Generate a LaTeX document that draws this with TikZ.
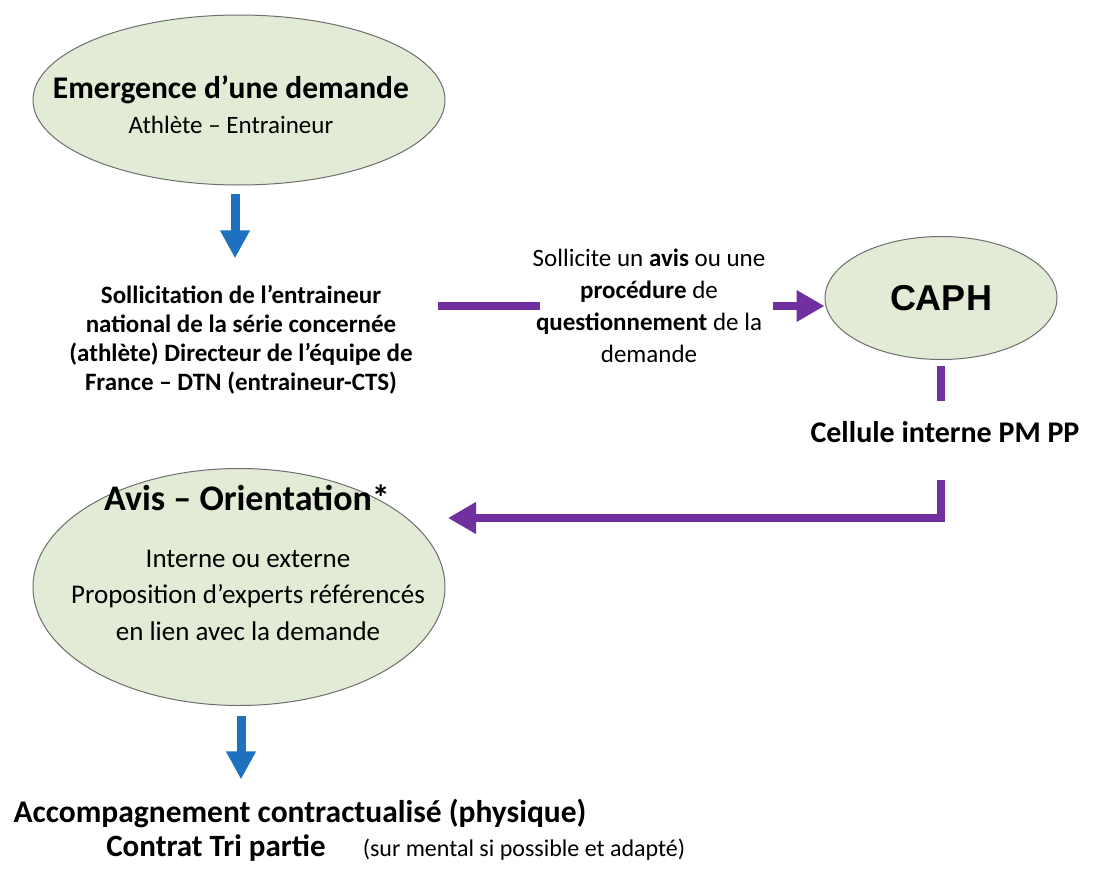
\documentclass[tikz,border=0pt]{standalone}
\usepackage{fontspec}
\setmainfont{Carlito}
\newfontfamily\caphfont{Liberation Sans}
\usepackage{tikz}
\usetikzlibrary{arrows.meta,shapes.geometric}
\definecolor{vertpale}{RGB}{226,235,214}
\definecolor{bordgris}{RGB}{110,110,110}
\definecolor{violetfleche}{RGB}{112,48,160}
\definecolor{bleufleche}{RGB}{30,113,190}
\newcommand{\taille}[1]{\fontsize{#1}{1.2\dimexpr#1\relax}\selectfont}
\tikzset{
    bulle/.style={ellipse, draw=bordgris, line width=1pt, fill=vertpale, inner sep=0pt},
    texte/.style={align=center, inner sep=0pt},
    fleche bleue/.style={draw=bleufleche, line width=9pt, -{Triangle[length=28pt,width=28pt]}},
    trait violet/.style={draw=violetfleche, line width=8pt},
    fleche violette/.style={trait violet, -{Triangle[length=28pt,width=30pt]}},
}

\begin{document}
\begin{tikzpicture}[x=1pt,y=-1pt]
\useasboundingbox (0,0) rectangle (1095,870);
% les bulles
\node[bulle, minimum width=412pt, minimum height=170pt] (emergence) at (239,100) {};
\node[bulle, minimum width=232pt, minimum height=123pt] (caph) at (941,298) {\caphfont\bfseries\fontsize{36pt}{42pt}\selectfont CAPH};
\node[bulle, minimum width=412pt, minimum height=237pt] (avis) at (239,587) {};

% les textes
\node[texte, anchor=base] (emergencetitre) at (231,98) {\bfseries\taille{31.5pt}Emergence d’une demande};
\node[texte, anchor=base] (emergencesous) at (231,133) {\taille{25pt}Athlète – Entraineur};
\node[texte, font=\bfseries\fontsize{25pt}{29pt}\selectfont] (sollicitation) at (241,340)
    {Sollicitation de l’entraineur\\ national de la série concernée\\ (athlète) Directeur de l’équipe de\\ France – DTN (entraineur-CTS)};
\node[texte, font=\fontsize{25pt}{32pt}\selectfont] (sollicite) at (649,306)
    {Sollicite un \textbf{avis} ou une\\ \textbf{procédure} de\\ \textbf{questionnement} de la\\ demande};
\node[texte, anchor=base] (cellule) at (945,442) {\bfseries\taille{30pt}Cellule interne PM PP};
\node[texte, anchor=base] (avistitre) at (247,510) {\bfseries\taille{36pt}Avis – Orientation*};
\node[texte, font=\fontsize{27pt}{36.5pt}\selectfont] (aviscorps) at (248,595)
    {Interne ou externe\\ Proposition d’experts référencés\\ en lien avec la demande};
\node[texte, anchor=base] (accompagnement) at (300,822) {\bfseries\taille{31.5pt}Accompagnement contractualisé (physique)};
\node[texte, anchor=base] (contrat) at (216,856) {\bfseries\taille{31pt}Contrat Tri partie};
\node[texte, anchor=base] (mental) at (524,856) {\taille{24pt}(sur mental si possible et adapté)};
\coordinate (avisin) at (448,518);

% les fleches
\draw[fleche bleue, shorten <=8pt, shorten >=27pt] ([xshift=-4pt]emergence.south) -- ([xshift=-4pt]emergence.south |- sollicitation.north);
\draw[trait violet, shorten <=25pt, shorten >=-7pt] (sollicitation.east |- sollicite) -- (sollicite.west);
\draw[fleche violette, shorten <=8pt] (sollicite.east) -- (sollicite.east -| caph.west);
\draw[trait violet, shorten <=6pt, shorten >=20pt] (caph.south) -- (caph.south |- cellule.north);
\draw[fleche violette, shorten <=38pt] (caph.south |- cellule.south) |- (avisin);
\draw[fleche bleue, shorten <=10pt, shorten >=19pt] ([xshift=2pt]avis.south) -- ([xshift=2pt]avis.south |- accompagnement.north);
\end{tikzpicture}
\end{document}
